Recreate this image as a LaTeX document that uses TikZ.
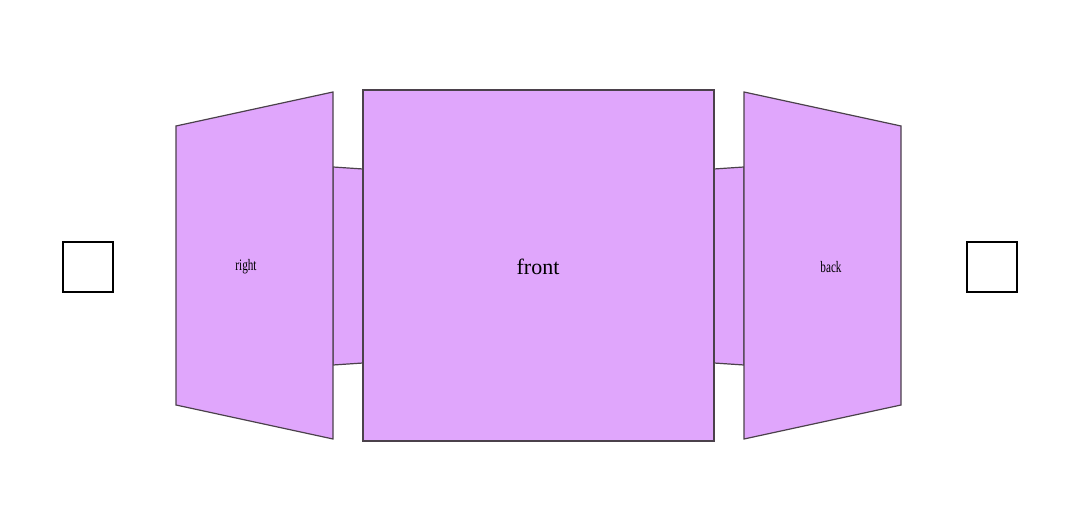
\documentclass[tikz,border=0pt]{standalone}
\usepackage{fontspec}
\setmainfont{Liberation Serif}
\definecolor{panel}{RGB}{224,166,252}
\definecolor{edge}{RGB}{75,65,75}
\tikzset{
  face/.style={fill=panel, draw=edge, line width=1.2pt, line join=miter},
  box/.style={draw=black, line width=2pt, fill=white},
  lbl/.style={font=\fontsize{16}{18}\selectfont, inner sep=0pt, xscale=0.7},
  biglbl/.style={font=\fontsize{22}{24}\selectfont, inner sep=0pt}
}
\begin{document}
\begin{tikzpicture}[x=1pt,y=-1pt]
\useasboundingbox (0,0) rectangle (1084,518);
% connecting strips
\draw[face] (333,167) -- (363,169) -- (363,363) -- (333,365) -- cycle;
\draw[face] (714,169) -- (744,167) -- (744,365) -- (714,363) -- cycle;
% side panels
\draw[face] (176,126) -- (333,92) -- (333,439) -- (176,405) -- cycle;
\draw[face] (744,92) -- (901,126) -- (901,405) -- (744,439) -- cycle;
% front
\draw[face] (363,90) rectangle (714,441);
% squares
\draw[box] (63,242) rectangle (113,292);
\draw[box] (967,242) rectangle (1017,292);
% labels
\node[lbl] (right) at (246,267) {right};
\node[biglbl] (front) at (538,267) {front};
\node[lbl] (back) at (831,267) {back};
\end{tikzpicture}
\end{document}
